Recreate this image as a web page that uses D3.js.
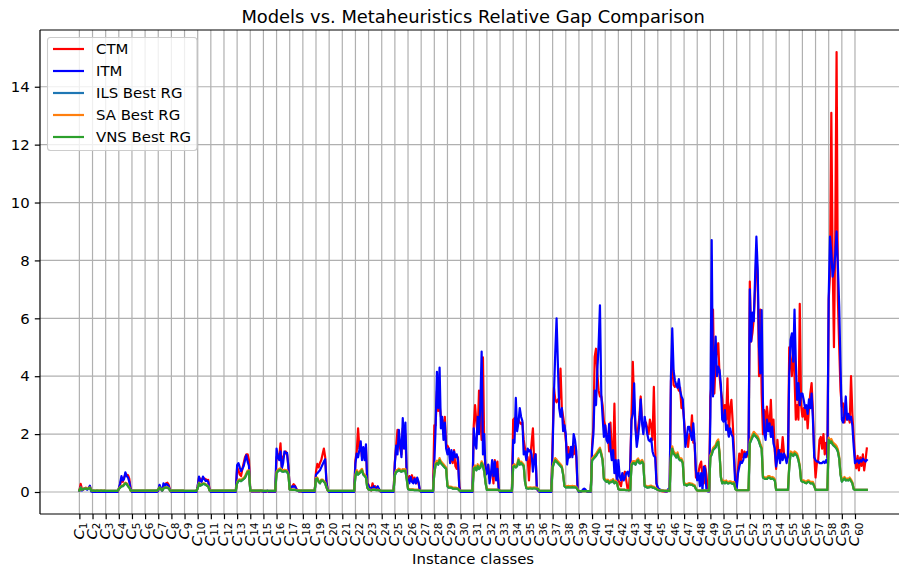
<!DOCTYPE html>
<html>
<head>
<meta charset="utf-8">
<script src="https://cdn.jsdelivr.net/npm/d3@7"></script>
<style>
  html, body { margin: 0; padding: 0; background: #fff; }
  svg { display: block; font-family: "DejaVu Sans", sans-serif; }
</style>
</head>
<body>
<svg id="chart" width="899" height="568"></svg>
<script>
// Instance classes C1..C60, ten instances per class
const classes = d3.range(1, 61).map(k => "C" + k);
const yTicks = [0, 2, 4, 6, 8, 10, 12, 14];

// Relative gap per instance, one row of ten per class
const ctmRows = [
  [0.05,0.28,0.10,0.08,0.12,0.15,0.10,0.12,0.20,0.05],
  [0.02,0.02,0.02,0.02,0.02,0.02,0.02,0.02,0.02,0.02],
  [0,0,0,0,0,0,0,0,0,0],
  [0.12,0.25,0.45,0.35,0.50,0.60,0.60,0.58,0.45,0.10],
  [0.01,0.01,0.01,0.01,0.01,0.01,0.01,0.01,0.01,0.01],
  [0.01,0.01,0.01,0.01,0.01,0.01,0.01,0.01,0.01,0.01],
  [0.05,0.20,0.10,0.05,0.15,0.25,0.30,0.32,0.25,0.05],
  [0.01,0.01,0.01,0.01,0.01,0.01,0.01,0.01,0.01,0.01],
  [0,0,0,0,0,0,0,0,0,0],
  [0.20,0.50,0.45,0.40,0.50,0.45,0.45,0.40,0.42,0.10],
  [0.01,0.01,0.01,0.01,0.01,0.01,0.01,0.01,0.01,0.01],
  [0.01,0.01,0.01,0.01,0.01,0.01,0.01,0.01,0.01,0.01],
  [0.85,0.75,0.60,0.55,0.80,1.00,1.20,1.30,1.30,1.10],
  [0.05,0.02,0.02,0.02,0.03,0.02,0.02,0.02,0.04,0.02],
  [0.02,0.01,0.01,0.03,0.01,0.01,0.01,0.01,0.01,0.01],
  [1.20,1.30,1.20,1.68,0.85,1.20,1.30,1.40,1.30,0.90],
  [0.10,0.15,0.20,0.27,0.22,0.12,0.05,0.02,0.02,0.02],
  [0.01,0.01,0.01,0.01,0.01,0.01,0.01,0.01,0.01,0.01],
  [0.70,0.97,0.85,1.00,1.10,1.30,1.50,1.20,0.35,0.05],
  [0.01,0.01,0.01,0.01,0.01,0.01,0.01,0.01,0.01,0.01],
  [0.01,0.01,0.01,0.01,0.01,0.01,0.01,0.01,0.01,0.01],
  [1.10,1.40,2.20,1.50,1.65,1.20,1.50,1.30,1.55,0.30],
  [0.25,0.10,0.05,0.30,0.10,0.20,0.10,0.15,0.05,0.02],
  [0.01,0.01,0.01,0.01,0.01,0.01,0.01,0.01,0.01,0.01],
  [1.05,1.60,2.15,1.80,1.50,1.30,2.20,1.60,2.00,0.55],
  [0.45,0.55,0.40,0.58,0.35,0.50,0.30,0.45,0.30,0.05],
  [0.01,0.01,0.01,0.01,0.01,0.01,0.01,0.01,0.01,0.05],
  [2.30,2.30,3.50,2.80,3.00,2.60,2.50,2.00,2.60,1.60],
  [1.60,1.50,1.30,1.10,1.00,1.45,0.90,0.80,1.20,0.20],
  [0.01,0.01,0.01,0.01,0.01,0.01,0.01,0.01,0.01,0.01],
  [2.30,3.00,2.40,2.00,3.50,2.50,1.80,4.65,1.50,0.80],
  [0.70,0.93,0.50,0.60,0.80,0.30,1.10,0.70,1.05,0.10],
  [0.01,0.01,0.01,0.01,0.01,0.01,0.01,0.01,0.01,0.01],
  [2.50,2.55,2.50,2.30,2.50,2.40,2.35,2.40,1.80,1.50],
  [1.30,1.20,0.40,1.20,1.70,2.20,1.00,1.30,0.10,0.05],
  [0.01,0.01,0.01,0.01,0.01,0.01,0.01,0.01,0.01,0.01],
  [1.80,3.60,3.20,3.10,3.20,3.20,4.26,2.90,2.60,2.30],
  [1.80,1.33,1.55,1.20,1.40,1.45,1.30,1.60,1.20,0.10],
  [0.01,0.01,0.02,0.05,0.10,0.05,0.02,0.01,0.01,0.01],
  [1.60,2.25,4.67,4.95,4.10,3.50,3.30,3.30,3.00,2.45],
  [2.30,2.00,2.00,1.40,2.40,1.40,1.10,3.05,0.80,0.40],
  [0.40,0.30,0.20,0.50,0.60,0.70,0.40,0.10,0.05,0.90],
  [2.60,4.50,3.00,2.30,1.80,2.20,2.60,3.30,2.40,2.20],
  [2.30,2.40,2.20,2.00,2.50,2.30,1.80,3.63,1.60,0.30],
  [0.10,0.05,0.05,0.03,0.02,0.02,0.02,0.02,0.05,0.05],
  [3.80,4.80,3.70,3.63,3.70,3.65,3.50,3.60,2.90,3.00],
  [2.50,1.80,1.90,1.56,2.00,2.00,2.65,1.70,1.68,0.50],
  [0.50,0.70,0.93,1.05,0.50,0.30,0.90,0.60,0.05,0.02],
  [3.30,3.76,6.30,3.40,4.50,4.90,5.14,4.00,3.50,3.20],
  [2.60,3.00,2.50,3.93,1.95,2.90,3.18,2.40,1.40,0.40],
  [0.20,0.80,1.33,1.00,1.45,1.20,1.40,1.30,1.36,1.20],
  [7.27,5.20,5.50,6.00,7.00,8.25,7.40,4.00,6.30,3.40],
  [2.00,2.83,2.20,2.95,2.50,2.30,3.18,2.00,2.50,1.40],
  [0.80,1.80,1.20,1.45,1.30,1.90,1.33,1.20,1.10,1.30],
  [5.00,4.50,4.00,5.20,4.00,2.50,3.00,2.50,6.50,3.00],
  [2.60,2.90,2.50,2.95,2.20,2.90,3.40,3.76,2.80,1.30],
  [0.50,1.00,1.10,1.80,1.90,1.50,2.00,1.30,1.70,1.20],
  [6.64,7.50,13.10,8.00,5.00,8.90,15.20,6.64,5.00,3.50],
  [2.95,3.06,2.40,2.80,2.50,2.60,2.40,4.00,2.70,1.90],
  [1.20,0.82,1.25,0.75,1.20,0.90,1.30,0.75,1.10,1.50]
];

const itmRows = [
  [0.05,0.18,0.05,0.10,0.12,0.10,0.08,0.12,0.22,0.02],
  [0,0,0,0,0,0,0,0,0,0],
  [0,0,0,0,0,0,0,0,0,0],
  [0.12,0.30,0.55,0.40,0.45,0.68,0.55,0.50,0.35,0.10],
  [0,0,0,0,0,0,0,0,0,0],
  [0,0,0,0,0,0,0,0,0,0],
  [0.05,0.25,0.12,0.05,0.30,0.20,0.28,0.25,0.20,0.05],
  [0,0,0,0,0,0,0,0,0,0],
  [0,0,0,0,0,0,0,0,0,0],
  [0.20,0.53,0.38,0.35,0.53,0.45,0.38,0.40,0.35,0.08],
  [0,0,0,0,0,0,0,0,0,0],
  [0,0,0,0,0,0,0,0,0,0],
  [0.93,1.00,0.85,0.72,0.80,0.90,1.10,1.27,1.05,0.90],
  [0.05,0.02,0.02,0.02,0.03,0.02,0.02,0.02,0.04,0.02],
  [0.01,0.01,0.01,0.05,0.01,0.01,0.01,0.01,0.01,0.01],
  [1.50,1.20,1.10,1.40,0.80,1.00,1.40,1.35,1.35,0.85],
  [0.12,0.15,0.20,0.18,0.20,0.10,0.05,0.02,0.02,0.02],
  [0,0,0,0,0,0,0,0,0,0],
  [0.60,0.65,0.70,0.75,0.85,0.95,1.05,1.13,0.30,0.05],
  [0,0,0,0,0,0,0,0,0,0],
  [0,0,0,0,0,0,0,0,0,0],
  [1.00,1.33,1.20,1.45,1.75,1.10,1.55,1.10,1.65,0.30],
  [0.20,0.10,0.15,0.10,0.20,0.10,0.15,0.20,0.10,0.02],
  [0,0,0,0,0,0,0,0,0,0],
  [1.00,1.60,1.30,2.15,1.70,1.20,2.55,1.50,2.40,0.60],
  [0.40,0.30,0.52,0.35,0.30,0.45,0.30,0.50,0.35,0.05],
  [0,0,0,0,0,0,0,0,0,0],
  [1.00,2.25,4.15,2.90,4.30,2.20,2.60,1.80,2.40,1.50],
  [1.30,1.50,1.00,1.45,1.10,1.40,1.20,1.30,1.10,0.15],
  [0,0,0,0,0,0,0,0,0,0],
  [2.20,1.70,1.50,2.60,2.00,3.00,4.85,1.30,2.00,0.60],
  [0.64,0.95,0.30,0.60,1.10,0.55,1.05,0.40,0.80,0.10],
  [0,0,0,0,0,0,0,0,0,0],
  [1.80,1.70,3.25,2.10,2.40,2.90,2.60,2.45,1.30,1.40],
  [1.10,1.50,1.40,1.45,1.30,0.70,1.10,1.30,0.10,0.05],
  [0,0,0,0,0,0,0,0,0,0],
  [1.50,3.40,4.80,6.00,4.40,2.90,2.60,2.90,2.10,2.30],
  [2.00,0.95,1.30,1.20,1.56,1.20,2.00,1.80,1.40,0.10],
  [0,0,0.02,0.08,0.12,0.08,0.02,0,0,0],
  [1.45,2.00,3.50,3.00,4.20,5.10,6.45,3.40,2.60,1.90],
  [2.30,1.80,1.70,2.35,1.50,1.10,1.45,0.65,1.10,0.30],
  [1.10,0.55,0.40,0.65,0.40,0.50,0.65,0.70,0.55,0.80],
  [2.50,2.70,3.75,2.20,1.56,1.90,2.37,3.20,2.40,2.00],
  [2.60,2.30,2.00,1.80,1.75,1.85,1.40,1.25,1.20,0.30],
  [0.15,0.10,0.08,0.05,0.05,0.03,0.02,0.02,0.10,0.15],
  [4.00,5.65,4.20,3.86,3.70,3.60,3.90,3.50,3.30,3.20],
  [2.40,1.56,1.90,2.25,2.25,2.00,1.80,2.37,1.70,0.75],
  [0.40,0.65,0.20,0.65,0.07,0.88,0.80,0.05,0.02,0.02],
  [2.60,8.70,3.30,4.45,5.37,4.00,4.33,4.20,3.70,2.50],
  [2.43,2.83,2.14,2.30,1.91,2.20,2.00,1.90,1.10,0.20],
  [0.10,0.65,0.87,1.05,1.00,1.10,1.33,1.20,1.39,1.30],
  [7.00,5.20,6.20,5.90,7.40,8.82,7.67,5.00,4.10,6.28],
  [3.06,2.03,1.80,2.50,2.10,2.37,1.90,2.26,1.68,1.50],
  [0.88,1.16,1.45,1.00,1.33,1.10,1.33,1.20,1.00,1.20],
  [4.10,5.25,5.48,4.50,6.30,4.45,3.18,3.76,3.00,3.40],
  [3.40,3.18,2.90,3.00,2.70,3.20,2.90,3.40,2.50,1.20],
  [1.10,1.05,1.05,1.00,1.00,1.00,1.05,1.00,1.10,1.00],
  [6.75,8.82,8.25,7.44,7.70,8.20,9.00,7.79,6.40,4.30],
  [2.50,2.40,2.66,3.30,2.50,2.70,2.50,2.60,2.30,1.60],
  [1.00,1.05,1.10,1.00,1.10,1.05,1.15,1.10,1.05,1.10]
];

const ilsRows = [
  [0.05,0.14,0.08,0.10,0.11,0.12,0.10,0.11,0.14,0.05],
  [0.05,0.05,0.04,0.05,0.05,0.04,0.05,0.05,0.04,0.05],
  [0.04,0.04,0.04,0.04,0.04,0.04,0.04,0.04,0.04,0.04],
  [0.10,0.15,0.19,0.20,0.24,0.29,0.27,0.20,0.15,0.05],
  [0.05,0.05,0.05,0.05,0.05,0.05,0.05,0.05,0.05,0.05],
  [0.05,0.05,0.05,0.05,0.05,0.05,0.05,0.05,0.05,0.05],
  [0.08,0.14,0.10,0.05,0.12,0.14,0.15,0.14,0.12,0.05],
  [0.05,0.05,0.05,0.05,0.05,0.05,0.05,0.05,0.05,0.05],
  [0.04,0.04,0.04,0.04,0.04,0.04,0.04,0.04,0.04,0.04],
  [0.12,0.29,0.22,0.24,0.28,0.27,0.25,0.22,0.19,0.05],
  [0.05,0.05,0.05,0.05,0.05,0.05,0.05,0.05,0.05,0.05],
  [0.05,0.05,0.05,0.05,0.05,0.05,0.05,0.05,0.05,0.05],
  [0.30,0.37,0.40,0.37,0.41,0.45,0.49,0.59,0.69,0.71],
  [0.05,0.05,0.05,0.05,0.05,0.05,0.05,0.05,0.05,0.05],
  [0.04,0.04,0.04,0.04,0.04,0.04,0.04,0.04,0.04,0.04],
  [0.64,0.71,0.74,0.76,0.71,0.70,0.71,0.71,0.69,0.59],
  [0.08,0.08,0.07,0.07,0.07,0.06,0.05,0.05,0.05,0.05],
  [0.05,0.05,0.05,0.05,0.05,0.05,0.05,0.05,0.05,0.05],
  [0.44,0.46,0.35,0.30,0.39,0.40,0.35,0.30,0.15,0.05],
  [0.04,0.04,0.04,0.04,0.04,0.04,0.04,0.04,0.04,0.04],
  [0.04,0.04,0.04,0.04,0.04,0.04,0.04,0.04,0.04,0.04],
  [0.54,0.69,0.60,0.64,0.69,0.74,0.60,0.55,0.49,0.15],
  [0.08,0.07,0.06,0.07,0.08,0.07,0.06,0.07,0.06,0.05],
  [0.04,0.04,0.04,0.04,0.04,0.04,0.04,0.04,0.04,0.04],
  [0.57,0.69,0.71,0.75,0.72,0.70,0.73,0.72,0.73,0.44],
  [0.10,0.08,0.07,0.07,0.07,0.06,0.06,0.06,0.06,0.05],
  [0.04,0.04,0.04,0.04,0.04,0.04,0.04,0.04,0.04,0.04],
  [0.63,0.94,0.99,0.94,1.09,0.99,0.94,0.89,0.84,0.79],
  [0.19,0.15,0.15,0.14,0.12,0.12,0.12,0.11,0.10,0.05],
  [0.04,0.04,0.04,0.04,0.04,0.04,0.04,0.04,0.04,0.04],
  [0.79,0.84,0.75,0.89,0.79,0.84,0.99,0.89,0.70,0.30],
  [0.07,0.07,0.07,0.07,0.07,0.07,0.07,0.07,0.07,0.07],
  [0.04,0.04,0.04,0.04,0.04,0.04,0.04,0.04,0.04,0.04],
  [0.86,0.89,0.85,0.89,1.09,0.94,0.99,0.94,0.89,0.35],
  [0.13,0.12,0.12,0.13,0.12,0.12,0.13,0.12,0.12,0.10],
  [0.04,0.04,0.04,0.04,0.04,0.04,0.04,0.04,0.04,0.04],
  [0.84,0.99,1.09,1.04,0.99,0.94,0.89,0.84,0.59,0.20],
  [0.16,0.16,0.17,0.16,0.16,0.17,0.16,0.16,0.15,0.08],
  [0.03,0.03,0.03,0.03,0.03,0.03,0.03,0.03,0.03,0.03],
  [1.09,1.14,1.19,1.24,1.32,1.39,1.46,1.29,1.09,0.45],
  [0.39,0.35,0.37,0.30,0.35,0.34,0.39,0.30,0.34,0.30],
  [0.10,0.08,0.07,0.07,0.07,0.07,0.06,0.06,0.06,0.06],
  [0.92,0.99,0.99,0.94,1.04,1.09,0.99,0.99,1.04,0.97],
  [0.20,0.18,0.15,0.16,0.17,0.18,0.15,0.15,0.12,0.10],
  [0.07,0.06,0.05,0.05,0.04,0.04,0.04,0.04,0.04,0.04],
  [1.19,1.49,1.32,1.27,1.19,1.29,1.14,1.09,1.09,0.99],
  [0.25,0.25,0.22,0.25,0.27,0.25,0.25,0.22,0.20,0.10],
  [0.05,0.05,0.05,0.05,0.05,0.05,0.05,0.05,0.05,0.05],
  [1.19,1.29,1.44,1.49,1.54,1.67,1.73,1.29,0.50,0.30],
  [0.35,0.30,0.35,0.30,0.30,0.32,0.30,0.28,0.30,0.10],
  [0.06,0.06,0.06,0.06,0.06,0.06,0.06,0.06,0.06,0.06],
  [1.67,1.79,1.89,1.99,1.94,1.89,1.84,1.74,1.59,1.49],
  [0.50,0.47,0.45,0.45,0.50,0.50,0.45,0.47,0.45,0.40],
  [0.07,0.07,0.07,0.07,0.07,0.07,0.07,0.07,0.07,0.07],
  [0.86,1.32,1.29,1.24,1.32,1.29,1.24,1.09,0.86,0.40],
  [0.35,0.35,0.32,0.30,0.35,0.35,0.30,0.30,0.30,0.20],
  [0.07,0.07,0.07,0.07,0.07,0.07,0.07,0.07,0.07,0.07],
  [1.79,1.69,1.74,1.64,1.59,1.55,1.49,1.39,1.15,0.60],
  [0.36,0.42,0.46,0.40,0.42,0.40,0.44,0.38,0.30,0.10],
  [0.07,0.07,0.07,0.07,0.07,0.07,0.07,0.07,0.07,0.07]
];

const saRows = [
  [0.06,0.16,0.09,0.11,0.13,0.13,0.11,0.13,0.16,0.06],
  [0.05,0.05,0.05,0.05,0.05,0.05,0.05,0.05,0.05,0.05],
  [0.04,0.04,0.04,0.04,0.04,0.04,0.04,0.04,0.04,0.04],
  [0.11,0.17,0.22,0.22,0.27,0.32,0.30,0.22,0.16,0.05],
  [0.05,0.05,0.05,0.05,0.05,0.05,0.05,0.05,0.05,0.05],
  [0.05,0.05,0.05,0.05,0.05,0.05,0.05,0.05,0.05,0.05],
  [0.09,0.16,0.11,0.06,0.13,0.16,0.16,0.16,0.13,0.05],
  [0.05,0.05,0.05,0.05,0.05,0.05,0.05,0.05,0.05,0.05],
  [0.04,0.04,0.04,0.04,0.04,0.04,0.04,0.04,0.04,0.04],
  [0.13,0.32,0.24,0.27,0.30,0.30,0.27,0.24,0.21,0.05],
  [0.05,0.05,0.05,0.05,0.05,0.05,0.05,0.05,0.05,0.05],
  [0.05,0.05,0.05,0.05,0.05,0.05,0.05,0.05,0.05,0.05],
  [0.33,0.42,0.44,0.41,0.46,0.49,0.54,0.65,0.74,0.75],
  [0.05,0.05,0.05,0.05,0.05,0.05,0.05,0.05,0.05,0.05],
  [0.04,0.04,0.04,0.04,0.04,0.04,0.04,0.04,0.04,0.04],
  [0.70,0.77,0.80,0.82,0.77,0.75,0.77,0.76,0.74,0.63],
  [0.09,0.09,0.08,0.08,0.08,0.07,0.06,0.06,0.05,0.05],
  [0.05,0.05,0.05,0.05,0.05,0.05,0.05,0.05,0.05,0.05],
  [0.48,0.50,0.38,0.33,0.43,0.43,0.38,0.33,0.16,0.05],
  [0.04,0.04,0.04,0.04,0.04,0.04,0.04,0.04,0.04,0.04],
  [0.04,0.04,0.04,0.04,0.04,0.04,0.04,0.04,0.04,0.04],
  [0.60,0.76,0.65,0.70,0.75,0.80,0.65,0.60,0.54,0.16],
  [0.09,0.08,0.07,0.08,0.09,0.08,0.07,0.08,0.07,0.05],
  [0.04,0.04,0.04,0.04,0.04,0.04,0.04,0.04,0.04,0.04],
  [0.62,0.75,0.77,0.81,0.78,0.75,0.79,0.78,0.79,0.48],
  [0.12,0.10,0.09,0.09,0.09,0.08,0.08,0.08,0.07,0.05],
  [0.04,0.04,0.04,0.04,0.04,0.04,0.04,0.04,0.04,0.04],
  [0.68,1.02,1.08,1.02,1.17,1.06,1.01,0.96,0.90,0.84],
  [0.24,0.19,0.19,0.18,0.15,0.15,0.15,0.14,0.12,0.06],
  [0.04,0.04,0.04,0.04,0.04,0.04,0.04,0.04,0.04,0.04],
  [0.85,0.92,0.81,0.96,0.86,0.90,1.06,0.96,0.75,0.32],
  [0.09,0.09,0.08,0.08,0.08,0.08,0.08,0.08,0.08,0.07],
  [0.04,0.04,0.04,0.04,0.04,0.04,0.04,0.04,0.04,0.04],
  [0.92,0.96,0.91,0.95,1.16,1.00,1.05,1.00,0.95,0.37],
  [0.16,0.15,0.15,0.16,0.15,0.15,0.16,0.15,0.15,0.11],
  [0.04,0.04,0.04,0.04,0.04,0.04,0.04,0.04,0.04,0.04],
  [0.90,1.06,1.17,1.12,1.06,1.01,0.96,0.90,0.64,0.22],
  [0.20,0.20,0.21,0.20,0.20,0.21,0.20,0.20,0.18,0.09],
  [0.03,0.03,0.03,0.03,0.03,0.03,0.03,0.03,0.03,0.03],
  [1.16,1.21,1.27,1.32,1.40,1.47,1.53,1.36,1.15,0.48],
  [0.45,0.40,0.43,0.35,0.40,0.40,0.45,0.35,0.40,0.34],
  [0.11,0.09,0.08,0.08,0.08,0.08,0.07,0.07,0.07,0.07],
  [0.98,1.06,1.07,1.01,1.11,1.16,1.06,1.06,1.11,1.03],
  [0.24,0.22,0.19,0.20,0.21,0.22,0.19,0.19,0.15,0.12],
  [0.08,0.07,0.06,0.06,0.05,0.05,0.05,0.05,0.05,0.05],
  [1.26,1.58,1.40,1.35,1.26,1.37,1.21,1.16,1.16,1.05],
  [0.29,0.29,0.26,0.29,0.31,0.29,0.29,0.26,0.24,0.12],
  [0.05,0.05,0.05,0.05,0.05,0.05,0.05,0.05,0.05,0.05],
  [1.26,1.37,1.52,1.57,1.62,1.76,1.82,1.37,0.54,0.33],
  [0.40,0.35,0.40,0.35,0.35,0.37,0.35,0.33,0.35,0.12],
  [0.06,0.06,0.06,0.06,0.06,0.06,0.06,0.06,0.06,0.06],
  [1.76,1.88,1.98,2.08,2.03,1.98,1.93,1.82,1.67,1.56],
  [0.55,0.52,0.50,0.50,0.55,0.55,0.50,0.52,0.50,0.44],
  [0.07,0.07,0.07,0.07,0.07,0.07,0.07,0.07,0.07,0.07],
  [0.92,1.40,1.37,1.32,1.40,1.37,1.32,1.16,0.92,0.43],
  [0.40,0.40,0.37,0.35,0.40,0.40,0.35,0.35,0.35,0.23],
  [0.07,0.07,0.07,0.07,0.07,0.07,0.07,0.07,0.07,0.07],
  [1.88,1.78,1.83,1.73,1.68,1.64,1.58,1.47,1.22,0.64],
  [0.41,0.47,0.52,0.45,0.47,0.45,0.50,0.43,0.34,0.12],
  [0.07,0.07,0.07,0.07,0.07,0.07,0.07,0.07,0.07,0.07]
];

const vnsRows = [
  [0.05,0.15,0.08,0.10,0.12,0.12,0.10,0.12,0.15,0.05],
  [0.05,0.05,0.04,0.05,0.05,0.04,0.05,0.05,0.04,0.05],
  [0.04,0.04,0.04,0.04,0.04,0.04,0.04,0.04,0.04,0.04],
  [0.10,0.15,0.20,0.20,0.25,0.30,0.28,0.20,0.15,0.05],
  [0.05,0.05,0.05,0.05,0.05,0.05,0.05,0.05,0.05,0.05],
  [0.05,0.05,0.05,0.05,0.05,0.05,0.05,0.05,0.05,0.05],
  [0.08,0.15,0.10,0.05,0.12,0.15,0.15,0.15,0.12,0.05],
  [0.05,0.05,0.05,0.05,0.05,0.05,0.05,0.05,0.05,0.05],
  [0.04,0.04,0.04,0.04,0.04,0.04,0.04,0.04,0.04,0.04],
  [0.12,0.30,0.22,0.25,0.28,0.28,0.25,0.22,0.20,0.05],
  [0.05,0.05,0.05,0.05,0.05,0.05,0.05,0.05,0.05,0.05],
  [0.05,0.05,0.05,0.05,0.05,0.05,0.05,0.05,0.05,0.05],
  [0.30,0.38,0.40,0.38,0.42,0.45,0.50,0.60,0.70,0.72],
  [0.05,0.05,0.05,0.05,0.05,0.05,0.05,0.05,0.05,0.05],
  [0.04,0.04,0.04,0.04,0.04,0.04,0.04,0.04,0.04,0.04],
  [0.65,0.72,0.75,0.77,0.72,0.70,0.72,0.72,0.70,0.60],
  [0.08,0.08,0.07,0.07,0.07,0.06,0.05,0.05,0.05,0.05],
  [0.05,0.05,0.05,0.05,0.05,0.05,0.05,0.05,0.05,0.05],
  [0.45,0.47,0.35,0.30,0.40,0.40,0.35,0.30,0.15,0.05],
  [0.04,0.04,0.04,0.04,0.04,0.04,0.04,0.04,0.04,0.04],
  [0.04,0.04,0.04,0.04,0.04,0.04,0.04,0.04,0.04,0.04],
  [0.55,0.70,0.60,0.65,0.70,0.75,0.60,0.55,0.50,0.15],
  [0.08,0.07,0.06,0.07,0.08,0.07,0.06,0.07,0.06,0.05],
  [0.04,0.04,0.04,0.04,0.04,0.04,0.04,0.04,0.04,0.04],
  [0.58,0.70,0.72,0.76,0.73,0.70,0.74,0.73,0.74,0.45],
  [0.10,0.08,0.07,0.07,0.07,0.06,0.06,0.06,0.06,0.05],
  [0.04,0.04,0.04,0.04,0.04,0.04,0.04,0.04,0.04,0.04],
  [0.64,0.95,1.00,0.95,1.10,1.00,0.95,0.90,0.85,0.80],
  [0.20,0.15,0.15,0.15,0.12,0.12,0.12,0.12,0.10,0.05],
  [0.04,0.04,0.04,0.04,0.04,0.04,0.04,0.04,0.04,0.04],
  [0.80,0.85,0.75,0.90,0.80,0.85,1.00,0.90,0.70,0.30],
  [0.07,0.07,0.07,0.07,0.07,0.07,0.07,0.07,0.07,0.07],
  [0.04,0.04,0.04,0.04,0.04,0.04,0.04,0.04,0.04,0.04],
  [0.87,0.90,0.85,0.90,1.10,0.95,1.00,0.95,0.90,0.35],
  [0.13,0.12,0.12,0.13,0.12,0.12,0.13,0.12,0.12,0.10],
  [0.04,0.04,0.04,0.04,0.04,0.04,0.04,0.04,0.04,0.04],
  [0.85,1.00,1.10,1.05,1.00,0.95,0.90,0.85,0.60,0.20],
  [0.16,0.16,0.17,0.16,0.16,0.17,0.16,0.16,0.15,0.08],
  [0.03,0.03,0.03,0.03,0.03,0.03,0.03,0.03,0.03,0.03],
  [1.10,1.15,1.20,1.25,1.33,1.40,1.47,1.30,1.10,0.45],
  [0.40,0.35,0.38,0.30,0.35,0.35,0.40,0.30,0.35,0.30],
  [0.10,0.08,0.07,0.07,0.07,0.07,0.06,0.06,0.06,0.06],
  [0.93,1.00,1.00,0.95,1.05,1.10,1.00,1.00,1.05,0.98],
  [0.20,0.18,0.15,0.16,0.17,0.18,0.15,0.15,0.12,0.10],
  [0.07,0.06,0.05,0.05,0.04,0.04,0.04,0.04,0.04,0.04],
  [1.20,1.50,1.33,1.28,1.20,1.30,1.15,1.10,1.10,1.00],
  [0.25,0.25,0.22,0.25,0.27,0.25,0.25,0.22,0.20,0.10],
  [0.05,0.05,0.05,0.05,0.05,0.05,0.05,0.05,0.05,0.05],
  [1.20,1.30,1.45,1.50,1.55,1.68,1.74,1.30,0.50,0.30],
  [0.35,0.30,0.35,0.30,0.30,0.32,0.30,0.28,0.30,0.10],
  [0.06,0.06,0.06,0.06,0.06,0.06,0.06,0.06,0.06,0.06],
  [1.68,1.80,1.90,2.00,1.95,1.90,1.85,1.75,1.60,1.50],
  [0.50,0.47,0.45,0.45,0.50,0.50,0.45,0.47,0.45,0.40],
  [0.07,0.07,0.07,0.07,0.07,0.07,0.07,0.07,0.07,0.07],
  [0.87,1.33,1.30,1.25,1.33,1.30,1.25,1.10,0.87,0.40],
  [0.35,0.35,0.32,0.30,0.35,0.35,0.30,0.30,0.30,0.20],
  [0.07,0.07,0.07,0.07,0.07,0.07,0.07,0.07,0.07,0.07],
  [1.80,1.70,1.75,1.65,1.60,1.56,1.50,1.40,1.16,0.60],
  [0.36,0.42,0.47,0.40,0.42,0.40,0.45,0.38,0.30,0.10],
  [0.07,0.07,0.07,0.07,0.07,0.07,0.07,0.07,0.07,0.07]
];

const seriesNames = ["CTM", "ITM", "ILS Best RG", "SA Best RG", "VNS Best RG"];
const seriesColors = ["#ff0000", "#0000ff", "#1f77b4", "#ff7f0e", "#2ca02c"];
const seriesValues = [ctmRows, itmRows, ilsRows, saRows, vnsRows].map(r => r.flat());

const perClass = 10;
const nPoints = classes.length * perClass;
const fontBase = 14.9;

const svg = d3.select("#chart");
const plotLeft = 40, plotBottom = 514, plotTop = 30;

// x runs over instance index with a 5% margin on each side; the plot box is wider than the page
const xPad = (nPoints - 1) * 0.05;
const x = d3.scaleLinear()
  .domain([-xPad, nPoints - 1 + xPad])
  .range([plotLeft, plotLeft + 1.3146 * (nPoints - 1 + 2 * xPad)]);
const yMax = d3.max(seriesValues.flat());
const yMin = 0;
const yPad = (yMax - yMin) * 0.05;
const y = d3.scaleLinear().domain([yMin - yPad, yMax + yPad]).range([plotBottom, plotTop]);

const plotRight = x.range()[1];
const classTicks = classes.map((c, k) => k * perClass);

// clip for the plot box
svg.append("defs").append("clipPath").attr("id", "plotclip")
  .append("rect").attr("x", plotLeft).attr("y", plotTop)
  .attr("width", plotRight - plotLeft).attr("height", plotBottom - plotTop);

// grid
const grid = svg.append("g");
grid.selectAll("line.vg").data(classTicks).join("line")
  .attr("x1", d => x(d)).attr("x2", d => x(d))
  .attr("y1", plotTop).attr("y2", plotBottom)
  .attr("stroke", "#b0b0b0").attr("stroke-width", 1.2);
grid.selectAll("line.hg").data(yTicks).join("line")
  .attr("x1", plotLeft).attr("x2", plotRight)
  .attr("y1", d => y(d)).attr("y2", d => y(d))
  .attr("stroke", "#b0b0b0").attr("stroke-width", 1.2);

// series lines
const line = d3.line().x((d, i) => x(i)).y(d => y(d));
const plot = svg.append("g").attr("clip-path", "url(#plotclip)");
seriesValues.forEach((vals, s) => {
  plot.append("path")
    .attr("d", line(vals))
    .attr("fill", "none")
    .attr("stroke", seriesColors[s])
    .attr("stroke-width", 2.2)
    .attr("stroke-linejoin", "round")
    .attr("stroke-linecap", "square");
});

// y axis
const yAxis = svg.append("g")
  .attr("transform", `translate(${plotLeft},0)`)
  .call(d3.axisLeft(y).tickValues(yTicks).tickSize(5.2).tickPadding(5).tickFormat(d3.format("d")));
yAxis.select(".domain").remove();
yAxis.selectAll(".tick line").attr("stroke", "#000").attr("stroke-width", 1.2);
yAxis.selectAll(".tick text")
  .attr("font-family", "DejaVu Sans").attr("font-size", fontBase).attr("fill", "#000");

// x axis with subscripted class labels
const xAxis = svg.append("g")
  .attr("transform", `translate(0,${plotBottom})`)
  .call(d3.axisBottom(x).tickValues(classTicks).tickSize(5.2).tickFormat(""));
xAxis.select(".domain").remove();
xAxis.selectAll(".tick line").attr("stroke", "#000").attr("stroke-width", 1.2);

const xl = svg.append("g");
classes.forEach((c, k) => {
  const t = xl.append("text")
    .attr("transform", `translate(${x(classTicks[k])},${plotBottom + 8.5}) rotate(-90)`)
    .attr("text-anchor", "end")
    .attr("dy", "0.3em")
    .attr("font-family", "DejaVu Sans")
    .attr("font-size", fontBase)
    .attr("fill", "#000");
  t.append("tspan").attr("font-style", "italic").text("C");
  t.append("tspan").attr("font-size", fontBase * 0.7).attr("dy", "0.3em").text(c.slice(1));
});

// spines
const spines = svg.append("g").attr("stroke", "#000").attr("stroke-width", 1.2).attr("fill", "none");
spines.append("line").attr("x1", plotLeft).attr("x2", plotLeft).attr("y1", plotTop).attr("y2", plotBottom);
spines.append("line").attr("x1", plotLeft).attr("x2", plotRight).attr("y1", plotBottom).attr("y2", plotBottom);
spines.append("line").attr("x1", plotLeft).attr("x2", plotRight).attr("y1", plotTop).attr("y2", plotTop);
spines.append("line").attr("x1", plotRight).attr("x2", plotRight).attr("y1", plotTop).attr("y2", plotBottom);

// title and axis label
svg.append("text")
  .attr("x", (plotLeft + plotRight) / 2).attr("y", 22.5)
  .attr("text-anchor", "middle")
  .attr("font-family", "DejaVu Sans").attr("font-size", 17.9).attr("fill", "#000")
  .text("Models vs. Metaheuristics Relative Gap Comparison");
svg.append("text")
  .attr("x", (plotLeft + plotRight) / 2).attr("y", 564)
  .attr("text-anchor", "middle")
  .attr("font-family", "DejaVu Sans").attr("font-size", fontBase).attr("fill", "#000")
  .text("Instance classes");

// legend
const lg = svg.append("g");
lg.append("rect")
  .attr("x", 47.5).attr("y", 37.5).attr("width", 149.5).attr("height", 113)
  .attr("rx", 3).attr("ry", 3)
  .attr("fill", "#fff").attr("fill-opacity", 0.8)
  .attr("stroke", "#cccccc").attr("stroke-width", 1.1);
seriesNames.forEach((name, s) => {
  const cy = 49 + s * 22;
  lg.append("line").attr("x1", 53).attr("x2", 84).attr("y1", cy).attr("y2", cy)
    .attr("stroke", seriesColors[s]).attr("stroke-width", 2.2);
  lg.append("text").attr("x", 96).attr("y", cy).attr("dy", "0.36em")
    .attr("font-family", "DejaVu Sans").attr("font-size", fontBase).attr("fill", "#000")
    .text(name);
});
</script>
</body>
</html>
